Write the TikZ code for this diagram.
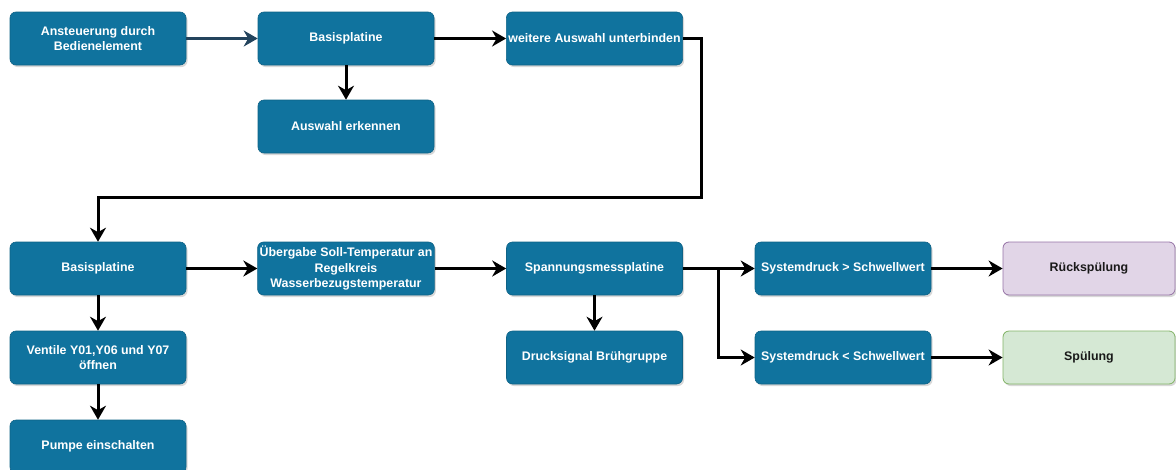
\documentclass[tikz,border=0pt]{standalone}
\usepackage{fontspec}
\setmainfont{Liberation Sans}
\usetikzlibrary{arrows.meta,shadows}

\definecolor{boxblue}{HTML}{10739E}
\definecolor{navyline}{HTML}{23445D}
\definecolor{lilacfill}{HTML}{E1D5E7}
\definecolor{lilacline}{HTML}{9673A6}
\definecolor{mintfill}{HTML}{D5E8D4}
\definecolor{mintline}{HTML}{82B366}

\tikzset{
  card/.style={rectangle, rounded corners=6pt, minimum width=176pt, minimum height=53pt,
    inner sep=2pt, align=center, font=\bfseries\fontsize{12.4}{15.5}\selectfont,
    drop shadow={shadow xshift=1.5pt, shadow yshift=-2pt, fill=black!30, opacity=0.5}},
  bluecard/.style={card, fill=boxblue, draw=boxblue!85!black, line width=0.6pt, text=white},
  lilaccard/.style={card, fill=lilacfill, draw=lilacline, line width=0.8pt, text=black!90, minimum width=172pt},
  mintcard/.style={card, fill=mintfill, draw=mintline, line width=0.8pt, text=black!90, minimum width=172pt},
  flow/.style={line width=3pt, draw=black, -{Stealth[length=14pt, width=16pt, inset=4.5pt]}},
}

\begin{document}
\begin{tikzpicture}[x=1pt, y=-1pt]
  \useasboundingbox (0,0) rectangle (1176,469);

  % first row
  \node[bluecard] (ctrl) at (98,38.5) {Ansteuerung durch\\Bedienelement};
  \node[bluecard] (base1) at (346,38.5) {Basisplatine};
  \node[bluecard] (block) at (594.5,38.5) {weitere Auswahl unterbinden};
  \node[bluecard] (detect) at (346,126.5) {Auswahl erkennen};

  % second part
  \node[bluecard] (base2) at (98,268.5) {Basisplatine};
  \node[bluecard] (handover) at (346,268.5) {Übergabe Soll-Temperatur an\\Regelkreis\\Wasserbezugstemperatur};
  \node[bluecard] (voltage) at (594.5,268.5) {Spannungsmessplatine};
  \node[bluecard] (high) at (843,268.5) {Systemdruck > Schwellwert};
  \node[lilaccard] (backflush) at (1089,268.5) {Rückspülung};

  \node[bluecard] (valves) at (98,357.5) {Ventile Y01,Y06 und Y07\\öffnen};
  \node[bluecard] (signal) at (594.5,357.5) {Drucksignal Brühgruppe};
  \node[bluecard] (low) at (843,357.5) {Systemdruck < Schwellwert};
  \node[mintcard] (flush) at (1089,357.5) {Spülung};

  \node[bluecard] (pump) at (98,446.5) {Pumpe einschalten};

  % junction points of the routed connectors
  \coordinate (loopA) at (701,38.5);
  \coordinate (loopB) at (701,197);
  \coordinate (loopC) at (98,197);
  \coordinate (fork) at (718,268.5);
  \coordinate (forkdown) at (718,357.5);

  % connectors
  \draw[flow, draw=navyline, -{Stealth[length=14pt, width=16pt, inset=4.5pt, fill=navyline]}] (ctrl) -- (base1);
  \draw[flow] (base1) -- (block);
  \draw[flow] (base1) -- (detect);
  \draw[flow] (block.east) -- (loopA) -- (loopB) -- (loopC) -- (base2.north);

  \draw[flow] (base2) -- (handover);
  \draw[flow] (base2) -- (valves);
  \draw[flow] (valves) -- (pump);
  \draw[flow] (handover) -- (voltage);
  \draw[flow] (voltage) -- (signal);
  \draw[flow] (voltage) -- (high);
  \draw[flow] (fork) -- (forkdown) -- (low.west);
  \draw[flow] (high) -- (backflush);
  \draw[flow] (low) -- (flush);
\end{tikzpicture}
\end{document}
